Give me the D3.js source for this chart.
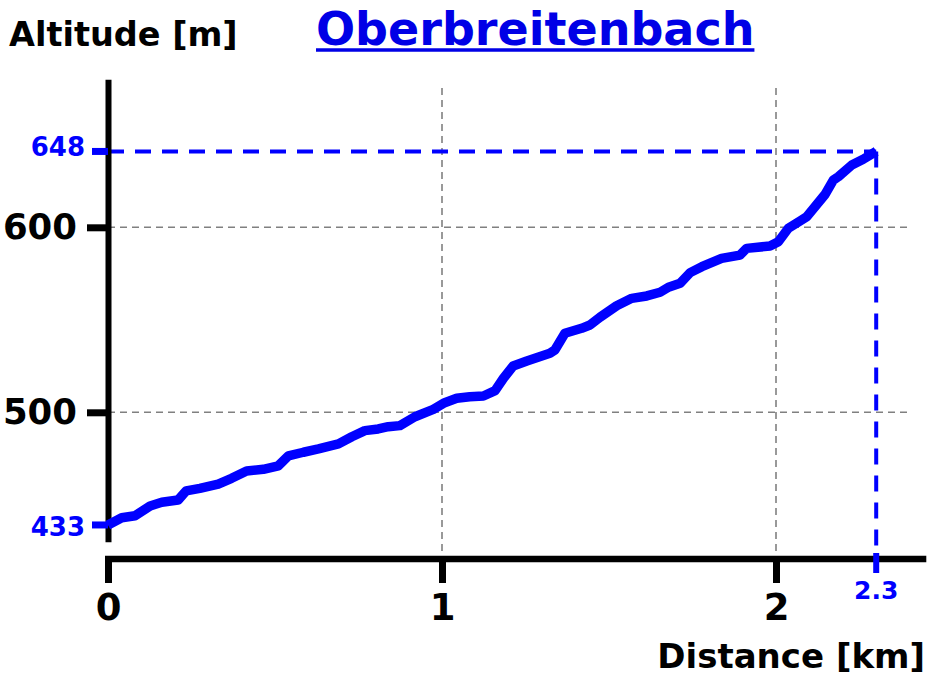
<!DOCTYPE html>
<html>
<head>
<meta charset="utf-8">
<script src="https://cdn.jsdelivr.net/npm/d3@7"></script>
<style>
  html, body { margin: 0; padding: 0; background: #fff; }
  svg { display: block; font-family: "DejaVu Sans", sans-serif; font-weight: bold; }
</style>
</head>
<body>
<svg id="chart" width="933" height="683"></svg>
<script>
// ---- data ----
const distanceKm = [0, 0.041, 0.081, 0.126, 0.161, 0.210, 0.234, 0.275, 0.330, 0.370,
  0.415, 0.465, 0.510, 0.540, 0.585, 0.630, 0.690, 0.730, 0.769, 0.809,
  0.839, 0.874, 0.919, 0.974, 1.008, 1.044, 1.083, 1.124, 1.159, 1.184,
  1.213, 1.254, 1.323, 1.338, 1.368, 1.418, 1.443, 1.473, 1.523, 1.568,
  1.613, 1.653, 1.678, 1.713, 1.743, 1.778, 1.837, 1.892, 1.912, 1.982,
  2.007, 2.037, 2.072, 2.092, 2.147, 2.172, 2.187, 2.227, 2.261, 2.300];
const altitudeM = [439.1, 443.0, 444.1, 449.4, 451.4, 452.6, 457.5, 458.9, 461.2, 464.3,
  468.3, 469.2, 471.1, 476.4, 478.4, 480.2, 482.9, 486.8, 490.1, 491.0,
  492.2, 492.8, 497.6, 501.6, 505.2, 507.6, 508.4, 508.8, 511.7, 518.4,
  525.0, 527.7, 531.9, 533.7, 542.7, 545.4, 547.2, 551.4, 557.6, 561.6,
  562.9, 564.9, 567.6, 569.7, 575.5, 578.7, 583.2, 585.0, 588.6, 589.9,
  592.2, 599.5, 603.4, 605.7, 617.8, 625.6, 627.4, 633.7, 636.8, 641.0];
const xTicks = [0, 1, 2];
const yTicks = [500, 600];
const startLabel = "433";
const endLabel = "648";
const endDistanceLabel = "2.3";
const titleText = "Oberbreitenbach";
const yTitle = "Altitude [m]";
const xTitle = "Distance [km]";

// ---- layout ----
const svg = d3.select("#chart");
const x = d3.scaleLinear().domain([0, 2.45]).range([108, 926.3]);
const y = d3.scaleLinear().domain([430, 680]).range([541.8, 79.3]);
const xAxisY = 559;
const blue = "#0000ff";
const pts = distanceKm.map((d, i) => [d, altitudeM[i]]);
const first = pts[0], last = pts[pts.length - 1];

// gridlines
const grid = svg.append("g").attr("stroke", "#808080").attr("stroke-width", 1.6)
  .attr("stroke-dasharray", "7,5").attr("fill", "none");
grid.selectAll("line.h").data(yTicks).join("line")
  .attr("x1", x(0)).attr("x2", 910).attr("y1", d => y(d)).attr("y2", d => y(d));
grid.selectAll("line.v").data(xTicks.filter(d => d > 0)).join("line")
  .attr("x1", d => x(d)).attr("x2", d => x(d)).attr("y1", 88).attr("y2", xAxisY - 3);

// blue dashed guides
const guides = svg.append("g").attr("stroke", blue).attr("stroke-width", 4)
  .attr("stroke-dasharray", "16,11").attr("fill", "none");
guides.append("line").attr("x1", x(0)).attr("x2", x(last[0]))
  .attr("y1", y(last[1])).attr("y2", y(last[1]));
guides.append("line").attr("x1", x(last[0])).attr("x2", x(last[0]))
  .attr("y1", y(last[1])).attr("y2", xAxisY - 3);

// y axis
const yAxis = d3.axisLeft(y).tickValues(yTicks).tickSize(21).tickSizeOuter(0).tickPadding(10)
  .tickFormat(d3.format("d"));
const gy = svg.append("g").attr("transform", `translate(${x(0)},0)`).call(yAxis);
gy.select(".domain").attr("stroke", "#000").attr("stroke-width", 6);
gy.selectAll(".tick line").attr("stroke", "#000").attr("stroke-width", 7);
gy.selectAll(".tick text").attr("fill", "#000").attr("font-size", 35.5)
  .attr("font-family", "DejaVu Sans").attr("font-weight", "bold");

// x axis
const xAxis = d3.axisBottom(x).tickValues(xTicks).tickSize(24).tickSizeOuter(0).tickPadding(11)
  .tickFormat(d3.format("d"));
const gx = svg.append("g").attr("transform", `translate(0,${xAxisY})`).call(xAxis);
gx.select(".domain").attr("stroke", "#000").attr("stroke-width", 6.5)
  .attr("d", `M${x(0) - 3},0H${x.range()[1]}`);
gx.selectAll(".tick line").attr("stroke", "#000").attr("stroke-width", 7);
gx.selectAll(".tick text").attr("fill", "#000").attr("font-size", 37)
  .attr("font-family", "DejaVu Sans").attr("font-weight", "bold");

// profile line
const line = d3.line().x(d => x(d[0])).y(d => y(d[1])).curve(d3.curveLinear);
svg.append("path").datum(pts).attr("d", line).attr("fill", "none")
  .attr("stroke", blue).attr("stroke-width", 9.5)
  .attr("stroke-linejoin", "round").attr("stroke-linecap", "butt");

// start / end markers on y axis
const markers = svg.append("g");
[[first, startLabel, 11.5], [last, endLabel, 4.5]].forEach(([p, lbl, off]) => {
  markers.append("line").attr("x1", x(0) - 16).attr("x2", x(0))
    .attr("y1", y(p[1])).attr("y2", y(p[1])).attr("stroke", blue).attr("stroke-width", 7);
  markers.append("text").attr("x", 85).attr("y", y(p[1]) + off)
    .attr("text-anchor", "end").attr("fill", blue).attr("font-size", 26).text(lbl);
});
// end distance marker
markers.append("line").attr("x1", x(last[0])).attr("x2", x(last[0]))
  .attr("y1", xAxisY - 6).attr("y2", xAxisY + 14).attr("stroke", blue).attr("stroke-width", 6);
markers.append("text").attr("x", x(last[0])).attr("y", 599)
  .attr("text-anchor", "middle").attr("fill", blue).attr("font-size", 25).text(endDistanceLabel);

// titles
svg.append("text").attr("x", 9).attr("y", 46).attr("font-size", 33.5).attr("fill", "#000").text(yTitle);
svg.append("text").attr("x", 925).attr("y", 668).attr("text-anchor", "end")
  .attr("font-size", 34).attr("fill", "#000").text(xTitle);
const t = svg.append("text").attr("x", 316).attr("y", 45).attr("font-size", 46)
  .attr("fill", "#0000e6").text(titleText);
const bb = t.node().getBBox();
svg.append("line").attr("x1", bb.x).attr("x2", bb.x + bb.width).attr("y1", 50).attr("y2", 50)
  .attr("stroke", "#0000e6").attr("stroke-width", 3.5);
</script>
</body>
</html>
